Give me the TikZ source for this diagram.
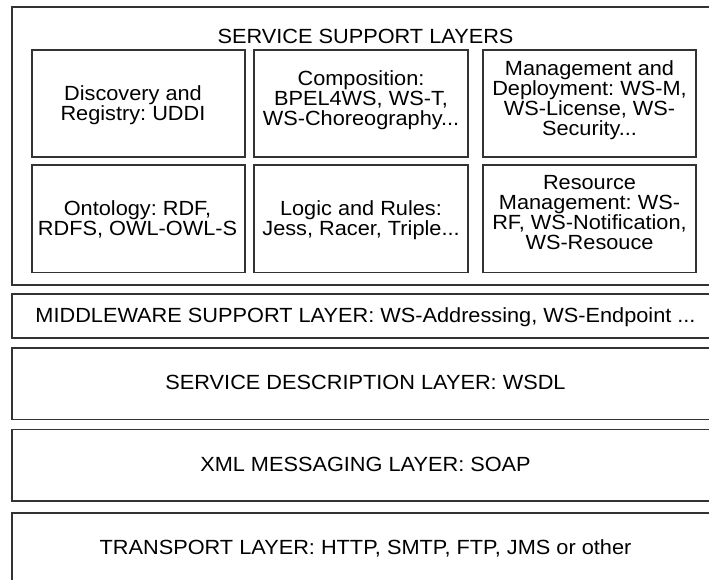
\documentclass[tikz,border=0pt]{standalone}
\usepackage{fontspec}
\setmainfont{Liberation Sans}[FakeStretch=1.06]
\frenchspacing
\begin{document}
\frenchspacing
\begin{tikzpicture}[x=1pt,y=-1pt,
  box/.style={draw=black!80, line width=1.3pt},
  lbl/.style={font=\fontsize{20.5}{20}\selectfont\frenchspacing, align=center, inner sep=0pt, text=black},
]
\useasboundingbox (0,0) rectangle (709,579);
\clip (0,0) rectangle (709,579);
% outer service support layer
\draw[box] (12,7) rectangle (720,285);
\node[lbl, anchor=base] (title) at (365.5,43) {SERVICE SUPPORT LAYERS};
% inner boxes
\draw[box] (32,50) rectangle (245,157);
\draw[box] (254,50) rectangle (468,157);
\draw[box] (483,50) rectangle (696,157);
\draw[box] (32,165) rectangle (245,272.5);
\draw[box] (254,165) rectangle (468,272.5);
\draw[box] (483,165) rectangle (696,272.5);
\node[lbl, anchor=north] (disc) at (133,85) {Discovery and\\Registry: UDDI};
\node[lbl, anchor=north] (comp) at (361,70) {Composition:\\BPEL4WS, WS-T,\\WS-Choreography...};
\node[lbl, anchor=north] (mgmt) at (589.5,60) {Management and\\Deployment: WS-M,\\WS-License, WS-\\Security...};
\node[lbl, anchor=north] (onto) at (137.5,200) {Ontology: RDF,\\RDFS, OWL-OWL-S};
\node[lbl, anchor=north] (logic) at (361,200) {Logic and Rules:\\Jess, Racer, Triple...};
\node[lbl, anchor=north] (res) at (589.5,175) {Resource\\Management: WS-\\RF, WS-Notification,\\WS-Resouce};
% layers
\draw[box] (12,294) rectangle (720,338);
\node[lbl, anchor=base] (mid) at (365.5,322.3) {MIDDLEWARE SUPPORT LAYER: WS-Addressing, WS-Endpoint ...};
\draw[box] (12,348) rectangle (720,419.5);
\node[lbl, anchor=base] (desc) at (365.5,389.3) {SERVICE DESCRIPTION LAYER: WSDL};
\draw[box] (12,429.5) rectangle (720,501);
\node[lbl, anchor=base] (xml) at (365.5,471) {XML MESSAGING LAYER: SOAP};
\draw[box] (12,513) rectangle (720,600);
\node[lbl, anchor=base] (trans) at (365.5,554.3) {TRANSPORT LAYER: HTTP, SMTP, FTP, JMS or other};
\end{tikzpicture}
\end{document}
